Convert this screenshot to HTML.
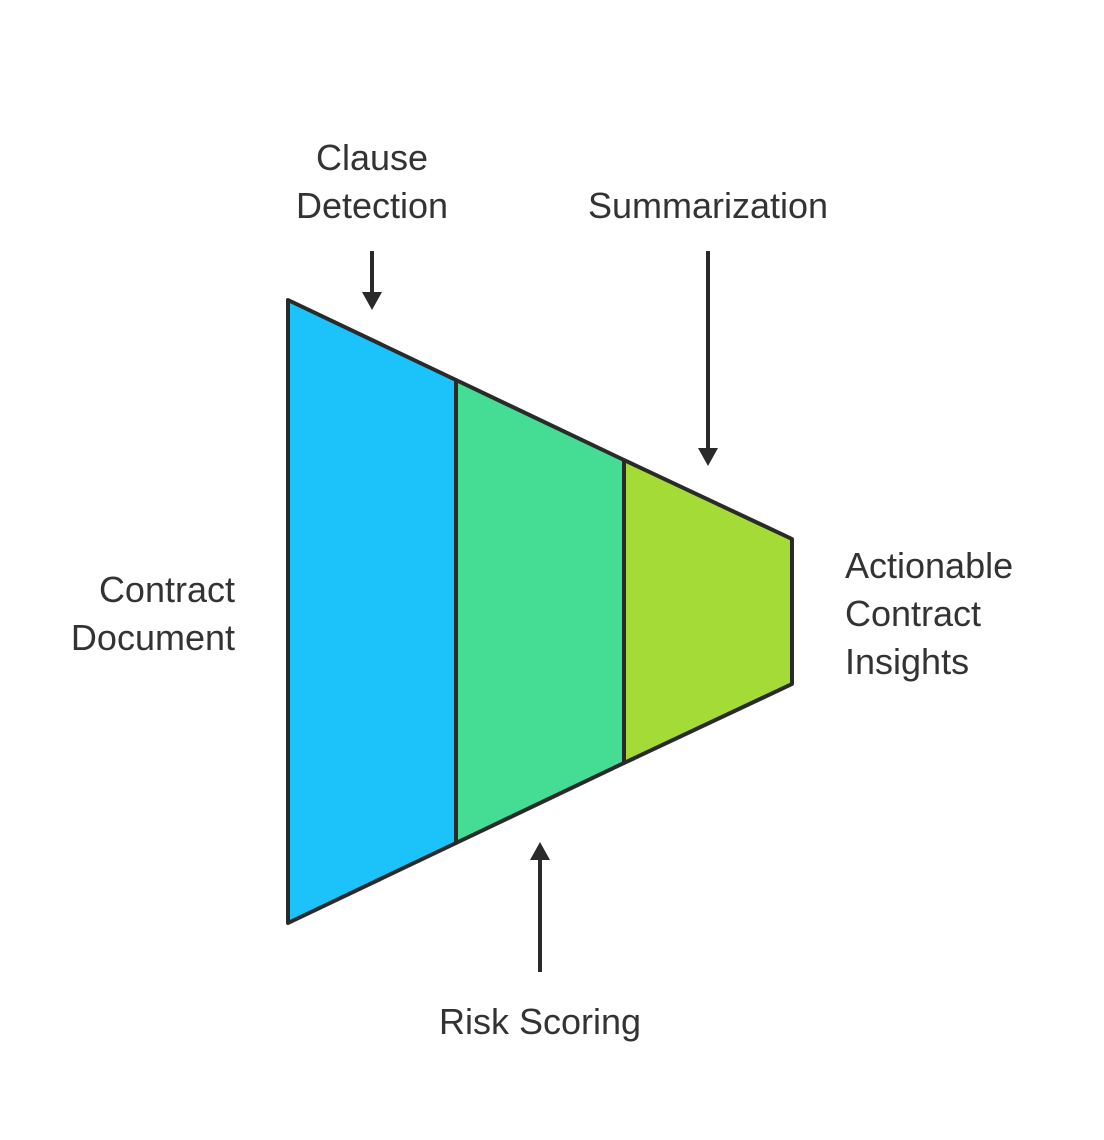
<!DOCTYPE html>
<html><head><meta charset="utf-8"><style>
html,body{margin:0;padding:0;background:#fff;}
svg{display:block;}
text{font-family:"Liberation Sans",sans-serif;font-size:36px;fill:#333;}
</style></head><body>
<svg width="1104" height="1140" viewBox="0 0 1104 1140" xmlns="http://www.w3.org/2000/svg">
<polygon points="288,300 456,380 456,843 288,923" fill="#1cc3fb" stroke="#2a2a2a" stroke-width="4" stroke-linejoin="round"/>
<polygon points="456,380 624,460 624,763 456,843" fill="#44dd93" stroke="#2a2a2a" stroke-width="4" stroke-linejoin="round"/>
<polygon points="624,460 792,539 792,684 624,763" fill="#a5db37" stroke="#2a2a2a" stroke-width="4" stroke-linejoin="round"/>
<g stroke="#2a2a2a" stroke-width="4">
<line x1="372" y1="251" x2="372" y2="296"/>
<line x1="708" y1="251" x2="708" y2="452"/>
<line x1="540" y1="972" x2="540" y2="856"/>
</g>
<g fill="#2a2a2a">
<polygon points="362,292 382,292 372,310"/>
<polygon points="698,448 718,448 708,466"/>
<polygon points="530,860 550,860 540,842"/>
</g>
<text x="372" y="170" text-anchor="middle">Clause</text>
<text x="372" y="218" text-anchor="middle">Detection</text>
<text x="708" y="218" text-anchor="middle">Summarization</text>
<text x="235" y="602" text-anchor="end">Contract</text>
<text x="235" y="650" text-anchor="end">Document</text>
<text x="845" y="578">Actionable</text>
<text x="845" y="626">Contract</text>
<text x="845" y="674">Insights</text>
<text x="540" y="1034" text-anchor="middle">Risk Scoring</text>
</svg>
</body></html>
